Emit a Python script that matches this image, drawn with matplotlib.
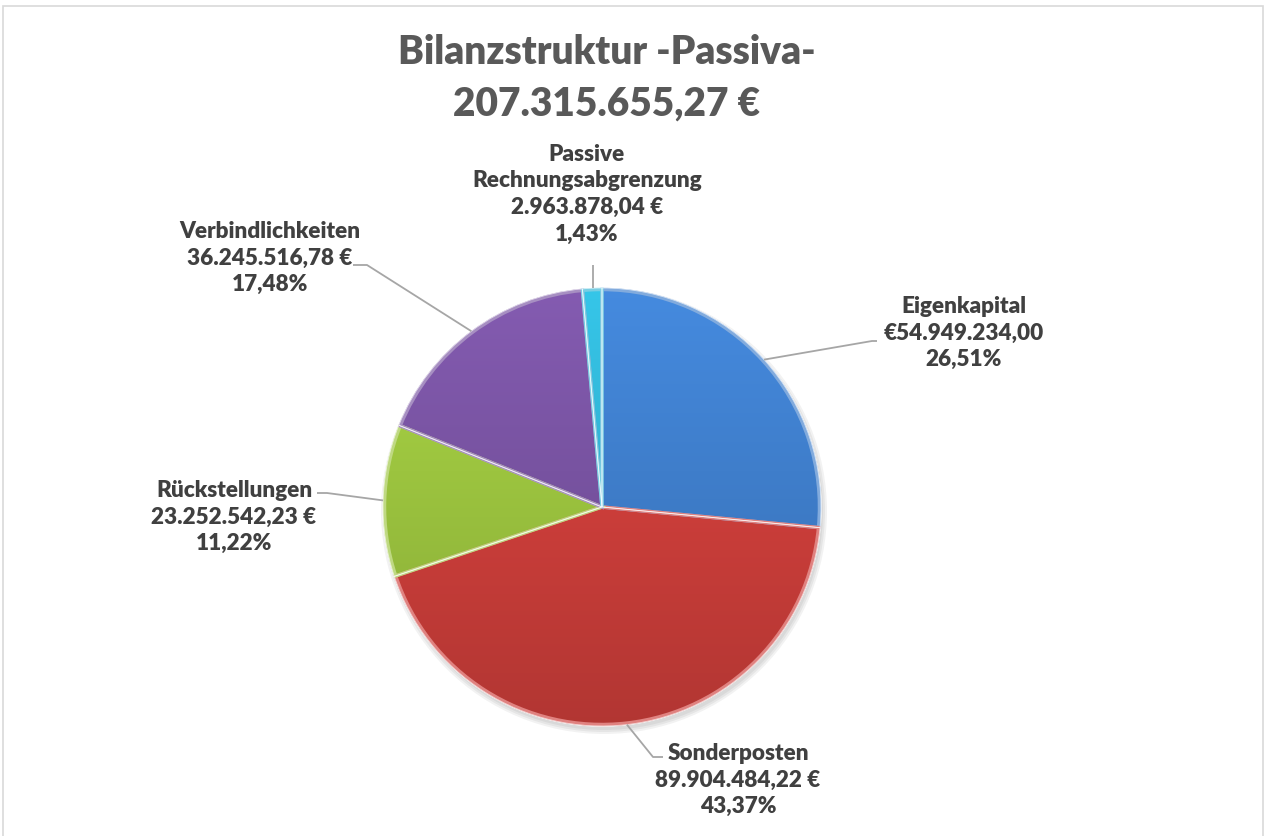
import matplotlib
matplotlib.use('Agg')
import matplotlib.pyplot as plt
import numpy as np
from matplotlib.colors import to_rgb
from matplotlib.patches import Wedge, Rectangle, Circle

# data
names = ['Eigenkapital', 'Sonderposten', 'Rückstellungen', 'Verbindlichkeiten',
         'Passive\nRechnungsabgrenzung']
values = [54949234.00, 89904484.22, 23252542.23, 36245516.78, 2963878.04]
value_labels = ['€54.949.234,00', '89.904.484,22 €', '23.252.542,23 €',
                '36.245.516,78 €', '2.963.878,04 €']
pct_labels = ['26,51%', '43,37%', '11,22%', '17,48%', '1,43%']
colors = ['#3f7ecb', '#cf3f3b', '#9cc43f', '#7853a1', '#31b4d4']
title = 'Bilanzstruktur -Passiva-'
total_label = '207.315.655,27 €'

W, H = 1266, 836
FONT = 'Lato'

fig = plt.figure(figsize=(W / 100, H / 100), dpi=100)
ax = fig.add_axes([0, 0, 1, 1])

# pixel layout (y measured from top, converted below)
cx, cy, r = 602, H - 507, 219

# soft shadow
for k, a in enumerate([0.05, 0.05, 0.05]):
    ax.add_patch(Circle((cx + 2, cy - 4), r + 4 - 2 * k, color='black', alpha=a,
                        lw=0, zorder=0))

wedges, _ = ax.pie(values, colors=colors, startangle=90, counterclock=False,
                   center=(cx, cy), radius=r,
                   wedgeprops=dict(edgecolor='white', linewidth=1))

# vertical gradient + bevel edge for each slice
grad = np.linspace(1.10, 0.86, 256)
for w in wedges:
    base = np.array(to_rgb(w.get_facecolor()))
    img = np.clip(grad[:, None, None] * base[None, None, :], 0, 1)
    im = ax.imshow(img, extent=(cx - r, cx + r, cy - r, cy + r), origin='upper',
                   aspect='auto', zorder=2, interpolation='bilinear')
    im.set_clip_path(w)
    light = np.clip(base + (1 - base) * 0.35, 0, 1)
    ax.add_patch(Wedge((cx, cy), r - 1.5, w.theta1, w.theta2, facecolor='none',
                       edgecolor=light, linewidth=2.5, zorder=3))
    ax.add_patch(Wedge((cx, cy), r, w.theta1, w.theta2, facecolor='none',
                       edgecolor='white', linewidth=0.6, alpha=0.7, zorder=4))

# label layout: text centre and leader elbow points (pixels, y from top)
text_pos = [(964, 333), (738, 780), (234, 517), (270, 258), (587, 194)]
elbows = [[(872, 341), (877, 341)],
          [(653, 757), (663, 757)],
          [(327, 493), (317, 493)],
          [(367, 265), (353, 265)],
          [(593, 265)]]

for w, nm, vl, pl, (tx, ty), el in zip(wedges, names, value_labels, pct_labels,
                                       text_pos, elbows):
    th = np.deg2rad((w.theta1 + w.theta2) / 2)
    ex, ey = cx + r * np.cos(th), cy + r * np.sin(th)
    xs = [ex] + [p[0] for p in el]
    ys = [ey] + [H - p[1] for p in el]
    if len(el) == 1:
        xs[0] = xs[1]
    ax.plot(xs, ys, color='#a6a6a6', lw=1.3, zorder=5, solid_capstyle='butt')
    ax.text(tx, H - ty, f'{nm}\n{vl}\n{pl}', ha='center', va='center',
            multialignment='center', fontsize=16.2, fontweight='heavy',
            family=FONT, color='#404040', linespacing=1.33, zorder=6)

ax.text(607, H - 52, title, ha='center', va='center', fontsize=28,
        fontweight='heavy', family=FONT, color='#595959')
ax.text(607, H - 104, total_label, ha='center', va='center', fontsize=28,
        fontweight='heavy', family=FONT, color='#595959')

# chart frame
ax.add_patch(Rectangle((3, -10), 1260, H - 6 + 10, facecolor='none',
                       edgecolor='#d9d9d9', lw=1.2, zorder=1, clip_on=False))

ax.set_xlim(0, W)
ax.set_ylim(0, H)
ax.axis('off')

fig.savefig('out.png', dpi=100)
